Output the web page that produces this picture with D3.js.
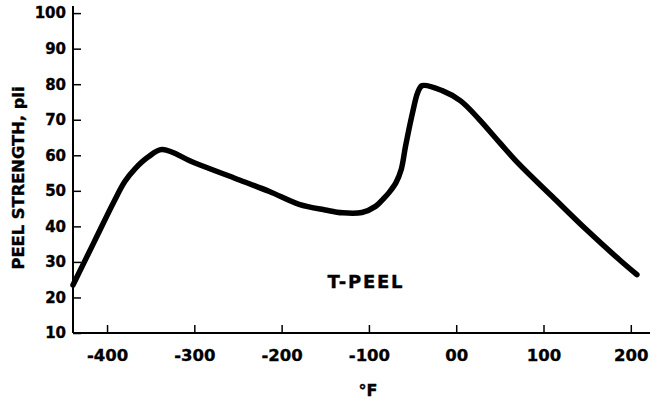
<!doctype html>
<html lang="en">
<head>
  <meta charset="utf-8">
  <title>T-Peel strength</title>
  <script src="https://cdn.jsdelivr.net/npm/d3@7"></script>
  <style>
    body{margin:0;background:#fff}
    text{font-family:"DejaVu Sans",sans-serif;font-weight:bold;fill:#000;stroke:#000;stroke-width:0.35px}
  </style>
</head>
<body>
  <div id="container"></div>
<script>
// temperature (°F) and peel strength (pli)
var temps = [-439, -415, -392, -380, -368, -353, -337, -300, -250, -214, -180, -150, -130, -108, -92, -84, -77, -69, -63, -58, -50, -44, -39, -16, 5, 26, 50, 72, 110, 149, 187, 207];
var peel  = [23.5, 35.5, 47, 52.5, 56.2, 59.5, 61.6, 57.9, 53.2, 49.8, 46.2, 44.6, 43.8, 43.9, 45.7, 47.6, 49.5, 52.3, 56, 62.6, 72, 77.7, 79.6, 78.2, 75.3, 70.2, 63.5, 57.5, 48.4, 39.1, 30.6, 26.4];
var xTicks = [-400, -300, -200, -100, 0, 100, 200];
var xTickLabels = ["-400", "-300", "-200", "-100", "00", "100", "200"];
var yTicks = [10, 20, 30, 40, 50, 60, 70, 80, 90, 100];

var width = 657, height = 403;
var svg = d3.select("#container").append("svg").attr("width", width).attr("height", height);

var x = d3.scaleLinear().domain([-439, 222]).range([73, 650]),
    y = d3.scaleLinear().domain([10, 102]).range([333, 6]);

// x axis
var gx = svg.append("g").attr("transform", "translate(0," + y(10) + ")")
    .call(d3.axisBottom(x).tickValues(xTicks).tickSize(-8).tickPadding(16)
      .tickFormat(function (d, i) { return xTickLabels[i]; }));
gx.select(".domain").attr("stroke-width", 2).attr("d", "M" + x(-439) + ",0H" + x(222));
gx.selectAll(".tick line").attr("stroke-width", 1.5);
gx.selectAll(".tick text").style("font-size", "16.5px").attr("dy", "0.71em");

// y axis
var gy = svg.append("g").attr("transform", "translate(" + x(-439) + ",0)")
    .call(d3.axisLeft(y).tickValues(yTicks).tickSize(-8).tickPadding(7));
gy.select(".domain").attr("stroke-width", 2).attr("d", "M0," + y(102) + "V" + y(10));
gy.selectAll(".tick line").attr("stroke-width", 1.5);
gy.selectAll(".tick text").style("font-size", "15px");

// curve
var line = d3.line()
    .x(function (d, i) { return x(temps[i]); })
    .y(function (d) { return y(d); })
    .curve(d3.curveCatmullRom.alpha(0.5));
svg.append("path").datum(peel)
    .attr("d", line)
    .attr("fill", "none")
    .attr("stroke", "#000")
    .attr("stroke-width", 5.5)
    .attr("stroke-linejoin", "round")
    .attr("stroke-linecap", "round");

// labels
svg.append("text").attr("x", 365).attr("y", 288).attr("text-anchor", "middle")
    .style("font-size", "18px").attr("textLength", 75).text("T-PEEL");
svg.append("text").attr("x", 368).attr("y", 396).attr("text-anchor", "middle")
    .style("font-size", "16px").text("°F");
svg.append("text").attr("transform", "translate(24,178)rotate(-90)").attr("text-anchor", "middle")
    .style("font-size", "16px").attr("textLength", 183).attr("lengthAdjust", "spacingAndGlyphs")
    .text("PEEL STRENGTH, pli");
</script>
</body>
</html>
